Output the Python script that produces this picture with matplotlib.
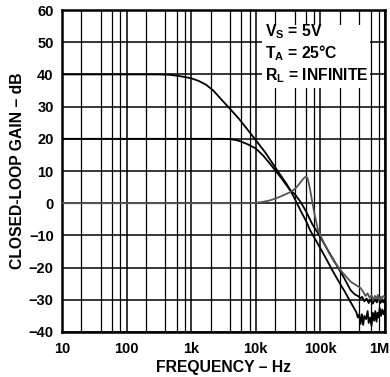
import matplotlib
matplotlib.use("Agg")
import matplotlib.pyplot as plt
from matplotlib.ticker import FixedLocator, NullFormatter
from matplotlib.patches import Rectangle
from matplotlib.transforms import ScaledTranslation

plt.rcParams['font.family'] = ['Liberation Sans', 'DejaVu Sans']
plt.rcParams['font.weight'] = 'bold'
plt.rcParams['mathtext.fontset'] = 'custom'
plt.rcParams['mathtext.rm'] = 'Liberation Sans:bold'
plt.rcParams['mathtext.it'] = 'Liberation Sans:bold'
plt.rcParams['mathtext.bf'] = 'Liberation Sans:bold'

# closed-loop gain = 40 dB
freq_g40 = [10, 300, 450, 600, 800, 1000, 1300, 1700, 2200, 3000, 4000, 5500,
            7500, 10000, 14000, 19000, 24000, 30000, 36000, 41000, 50000, 60000,
            69000, 85000, 100000, 125000, 150000, 180000, 210000, 240000, 270000,
            300000, 330000, 360000, 380000, 400000, 420000, 440000, 460000,
            480000, 510000, 540000, 560000, 590000, 620000, 650000, 680000,
            710000, 740000, 770000, 800000, 830000, 870000, 910000, 950000, 1000000]
gain_g40 = [40, 40, 39.9, 39.6, 39.2, 38.8, 38.0, 36.8, 35.0, 32.0, 29.3, 26.2,
            22.8, 19.6, 15.8, 11.8, 8.8, 6.0, 3.2, 1.0, -2.5, -5.5,
            -8.3, -11.5, -14.0, -17.5, -20.5, -23.3, -25.6, -27.5, -29.4,
            -31.0, -32.5, -33.8, -35.5, -34.5, -37.5, -34.5, -37.8,
            -35.0, -36.0, -33.5, -37.2, -35.5, -38.0, -34.0, -36.5,
            -33.5, -36.8, -34.0, -35.5, -32.5, -35.0, -33.0, -34.5, -33.0]

# closed-loop gain = 20 dB
freq_g20 = [10, 3000, 4000, 5000, 6000, 7500, 10000, 13000, 17000, 24000, 33000,
            41000, 49000, 60000, 75000, 100000, 130000, 170000, 230000, 294000,
            340000, 380000, 420000, 445000, 480000, 520000, 560000, 600000,
            650000, 700000, 750000, 800000, 850000, 900000, 950000, 1000000]
gain_g20 = [20, 20, 19.9, 19.6, 19.1, 18.3, 17.0, 14.8, 12.0, 8.2, 4.4,
            2.6, 0.5, -2.5, -6.5, -10.5, -14.5, -18.5, -23.0, -27.0,
            -28.3, -28.8, -29.5, -29.1, -30.5, -29.6, -31.0, -30.0,
            -31.2, -29.8, -30.8, -29.5, -31.0, -30.2, -30.8, -30.0]

# closed-loop gain = 0 dB
freq_g0 = [10, 8000, 12000, 16000, 20000, 27000, 33000, 38000, 43000, 48000,
           53000, 57000, 60000, 63000, 66000, 70000, 74000, 82000, 92000,
           110000, 135000, 165000, 204000, 250000, 300000, 360000, 417000,
           460000, 500000, 540000, 580000, 620000, 660000, 700000, 740000,
           780000, 820000, 860000, 900000, 950000, 1000000]
gain_g0 = [0, 0, 0.3, 0.8, 1.4, 2.5, 3.3, 4.0, 5.0, 6.2,
           7.3, 8.0, 8.2, 7.8, 6.3, 3.8, 1.0, -3.8, -8.3,
           -11.8, -15.3, -18.3, -20.7, -22.8, -24.5, -25.5, -26.3,
           -27.5, -28.8, -28.0, -29.4, -28.6, -30.0, -28.8, -29.5,
           -28.5, -30.0, -29.0, -29.6, -28.8, -29.2]

x_ticks = [10, 100, 1000, 10000, 100000, 1000000]
x_labels = ["10", "100", "1k", "10k", "100k", "1M"]
y_ticks = [-40, -30, -20, -10, 0, 10, 20, 30, 40, 50, 60]
y_labels = ["\u221240", "\u221230", "\u221220", "\u221210", "0", "10", "20",
            "30", "40", "50", "60"]
x_minor = [m * d for d in [10, 100, 1000, 10000, 100000] for m in [2, 4, 6, 8]]

fig = plt.figure(figsize=(3.9, 3.77), dpi=100)
ax = fig.add_axes([0.159, 0.1194, 0.828, 0.854])

ax.set_xscale("log")
ax.set_xlim(10, 1e6)
ax.set_ylim(-40, 60)

ax.xaxis.set_major_locator(FixedLocator(x_ticks))
ax.xaxis.set_minor_locator(FixedLocator(x_minor))
ax.xaxis.set_minor_formatter(NullFormatter())
ax.set_xticklabels(x_labels)
ax.set_yticks(y_ticks)
ax.set_yticklabels(y_labels)
ax.tick_params(which="both", length=0, labelsize=10.5)
ax.tick_params(axis="x", pad=7)
ax.tick_params(axis="y", pad=6)

# keep the "1M" label inside the figure edge
last = ax.get_xticklabels()[-1]
last.set_horizontalalignment("right")
last.set_transform(last.get_transform() + ScaledTranslation(4 / 100, 0, fig.dpi_scale_trans))

ax.grid(which="major", color="black", linewidth=1.1)
ax.grid(which="minor", axis="x", color="black", linewidth=0.9)
for s in ax.spines.values():
    s.set_linewidth(1.8)

ax.plot(freq_g40, gain_g40, color="black", linewidth=1.3, zorder=3)
ax.plot(freq_g20, gain_g20, color="black", linewidth=1.3, zorder=3)
ax.plot(freq_g0, gain_g0, color="#555555", linewidth=1.3, zorder=3)

# conditions box
ax.add_patch(Rectangle((0.619, 0.758), 0.335, 0.195, transform=ax.transAxes,
                       facecolor="white", edgecolor="none", zorder=4))
box_lines = [r"V$_\mathregular{S}$ = 5V", r"T$_\mathregular{A}$ = 25°C",
             r"R$_\mathregular{L}$ = INFINITE"]
for i, t in enumerate(box_lines):
    ax.text(0.628, 0.917 - i * 0.067, t, transform=ax.transAxes, fontsize=11.3,
            fontweight="bold", ha="left", va="baseline", zorder=5)

ax.set_xlabel("FREQUENCY \u2013 Hz", fontsize=11.3, fontweight="bold", labelpad=3)
ax.set_ylabel("CLOSED-LOOP GAIN \u2013 dB", fontsize=11.3, fontweight="bold", labelpad=3)

fig.savefig("out.png", dpi=100)
